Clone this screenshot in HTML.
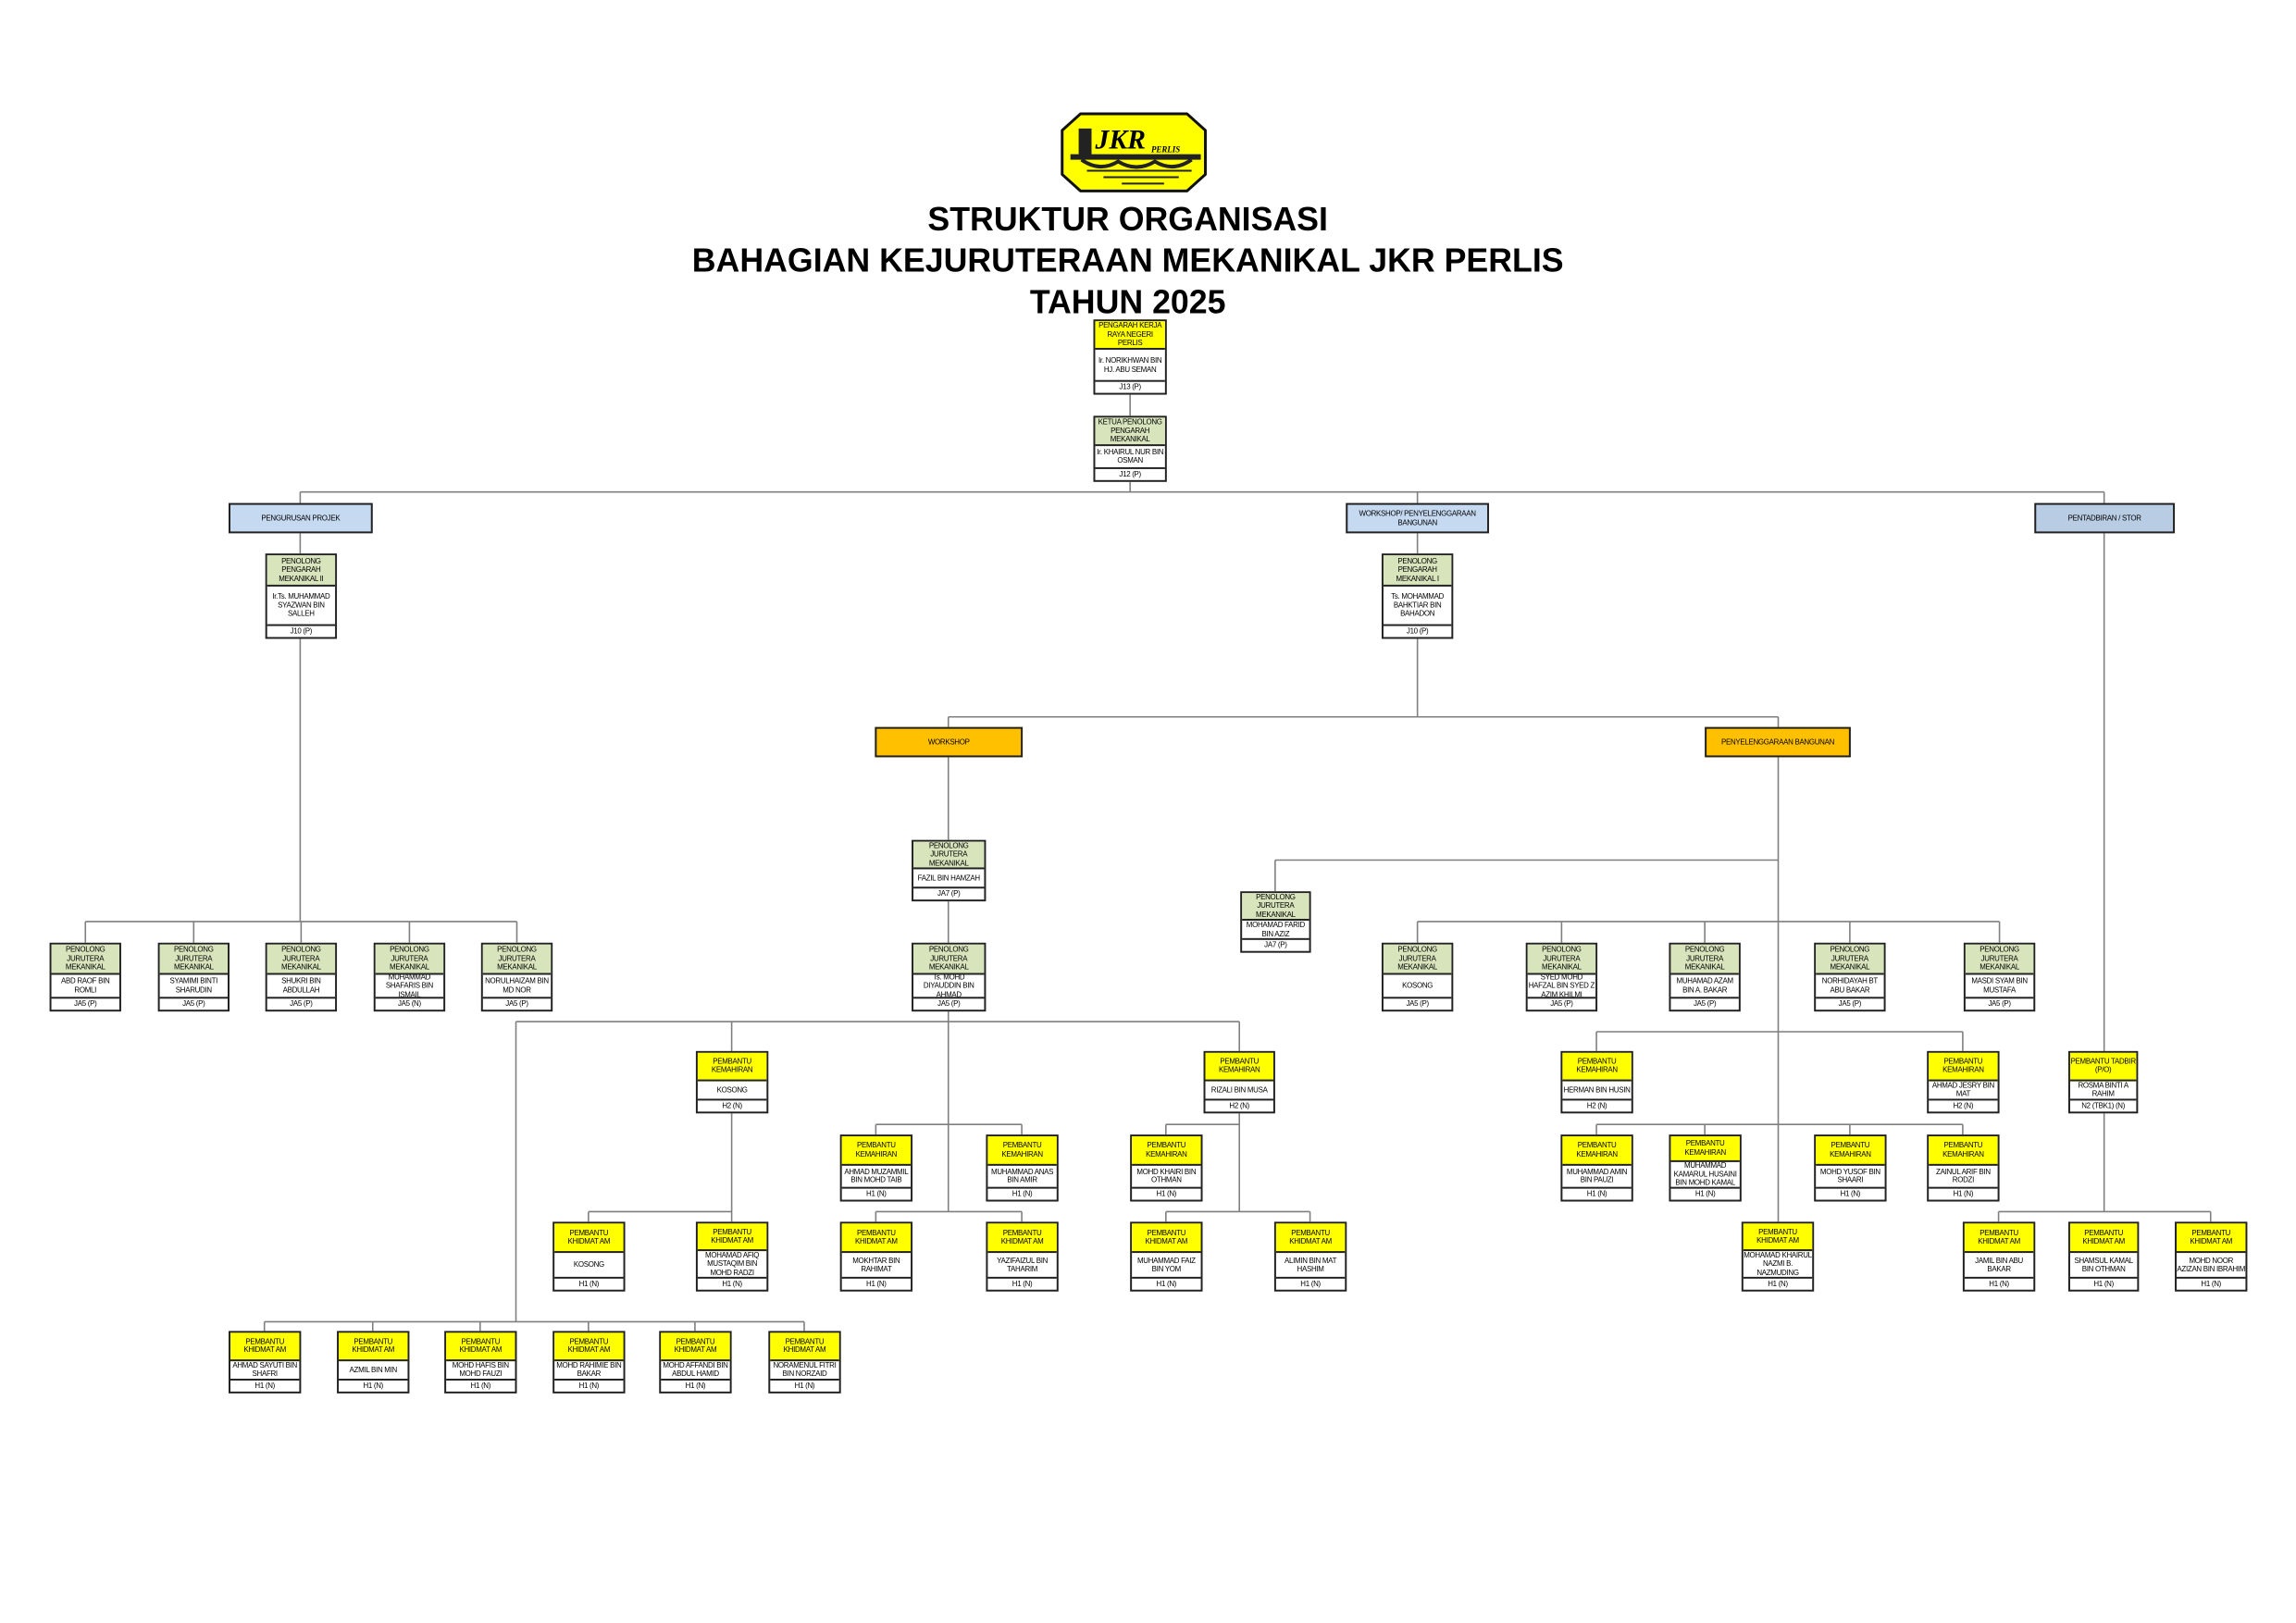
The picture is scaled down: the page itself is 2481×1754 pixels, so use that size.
<!DOCTYPE html>
<html><head><meta charset="utf-8">
<style>
html,body{margin:0;padding:0;background:#fff;}
body{width:2481px;height:1754px;position:relative;overflow:hidden;font-family:"Liberation Sans",sans-serif;}
#w{position:absolute;left:0;top:0;width:2481px;height:1754px;transform:scale(0.992);transform-origin:0 0;}
.h{position:absolute;left:0;width:2481px;text-align:center;font-weight:bold;font-size:36px;color:#000;line-height:40px;}
.b{position:absolute;border:2px solid #222;box-sizing:border-box;display:flex;flex-direction:column;background:#fff;font-size:8px;line-height:9.5px;text-align:center;color:#000;letter-spacing:-0.3px;}
.b>div{display:flex;align-items:center;justify-content:center;box-sizing:border-box;overflow:hidden;}
.b .t{height:38%;border-bottom:2px solid #222;}
.b .n{flex:1;border-bottom:2px solid #222;}
.b .g{height:12px;}
.y .t{background:#ffff00;}
.gr .t{background:#d8e4bc;}
.s{position:absolute;border:2px solid #222;box-sizing:border-box;display:flex;align-items:center;justify-content:center;text-align:center;font-size:8px;line-height:10px;letter-spacing:-0.3px;}
.bl{background:#c5d9f1;}
.bl2{background:#b8cce4;}
.or{background:#ffc000;}
</style></head><body><div id="w">
<svg width="2481" height="1754" style="position:absolute;left:0;top:0" xmlns="http://www.w3.org/2000/svg">
<g fill="none" stroke="#7f7f7f" stroke-width="1.6">
<path d="M1231 430V453M1231 525V536M327 536H2292M327 536V548M327 581V1004M1544 536V548M1544 581V781M2292 536V1320"/>
<path d="M93 1004H563M93 1004V1027M211 1004V1027M328 1004V1027M446 1004V1027M563 1004V1027"/>
<path d="M1033 781H1937M1033 781V792M1937 781V1331M1033 825V1320"/>
<path d="M562 1113H1350M562 1113V1440M797 1113V1331M1350 1113V1320"/>
<path d="M641 1320H797M641 1320V1331"/>
<path d="M954 1225H1113M954 1225V1236M1113 1225V1236M954 1320H1113M954 1320V1331M1113 1320V1331"/>
<path d="M1270 1225H1350M1270 1225V1236M1270 1320H1427M1270 1320V1331M1427 1320V1331"/>
<path d="M288 1440H876M288 1440V1450M406 1440V1450M523 1440V1450M641 1440V1450M757 1440V1450M876 1440V1450"/>
<path d="M1389 937H1937M1389 937V971"/>
<path d="M1544 1004H2178M1544 1004V1027M1701 1004V1027M1857 1004V1027M2015 1004V1027M2178 1004V1027"/>
<path d="M1739 1124H2138M1739 1124V1145M2138 1124V1145"/>
<path d="M1739 1225H2138M1739 1225V1236M1857 1225V1236M2015 1225V1236M2138 1225V1236"/>
<path d="M2177 1320H2408M2177 1320V1331M2408 1320V1331"/>
</g>
<g transform="translate(12,0)">
<path d="M1165 124 L1281 124 L1301 142 L1301 190 L1281 208 L1165 208 L1145 190 L1145 142 Z" fill="#ffff00" stroke="#111" stroke-width="3" stroke-linejoin="round"/>
<rect x="1163" y="140" width="14" height="30" fill="#222"/>
<rect x="1154" y="168" width="142" height="6" fill="#222"/>
<path d="M1166 174 Q1186 188 1206 176 Q1226 188 1246 176 Q1266 188 1286 174" fill="none" stroke="#222" stroke-width="4"/>
<path d="M1172 186 H1286 M1190 193 H1272 M1210 200 H1256" stroke="#222" stroke-width="2"/>
<text x="1181" y="162" font-family="Liberation Serif,serif" font-weight="bold" font-style="italic" font-size="30">JKR</text>
<text x="1242" y="166" font-family="Liberation Serif,serif" font-weight="bold" font-style="italic" font-size="9">PERLIS</text>
</g>
</svg>
<div class="h" style="top:219px;left:-12px">STRUKTUR ORGANISASI</div>
<div class="h" style="top:264px;left:-12px">BAHAGIAN KEJURUTERAAN MEKANIKAL JKR PERLIS</div>
<div class="h" style="top:309px;left:-12px">TAHUN 2025</div>

<div class="b y" style="left:1191px;top:348px;width:80px;height:82px"><div class="t" style="height:40%">PENGARAH KERJA RAYA NEGERI PERLIS</div><div class="n">Ir. NORIKHWAN BIN HJ. ABU SEMAN</div><div class="g">J13 (P)</div></div>
<div class="b gr" style="left:1191px;top:453px;width:80px;height:72px"><div class="t" style="height:45%">KETUA PENOLONG PENGARAH MEKANIKAL</div><div class="n">Ir. KHAIRUL NUR BIN OSMAN</div><div class="g">J12 (P)</div></div>

<div class="s bl" style="left:249px;top:548px;width:157px;height:33px">PENGURUSAN PROJEK</div>
<div class="s bl" style="left:1466px;top:548px;width:156px;height:33px">WORKSHOP/ PENYELENGGARAAN<br>BANGUNAN</div>
<div class="s bl2" style="left:2216px;top:548px;width:153px;height:33px">PENTADBIRAN / STOR</div>

<div class="b gr" style="left:289px;top:603px;width:78px;height:93px"><div class="t">PENOLONG PENGARAH MEKANIKAL II</div><div class="n">Ir.Ts. MUHAMMAD SYAZWAN BIN SALLEH</div><div class="g">J10 (P)</div></div>
<div class="b gr" style="left:1505px;top:603px;width:78px;height:93px"><div class="t">PENOLONG PENGARAH MEKANIKAL I</div><div class="n">Ts. MOHAMMAD BAHKTIAR BIN BAHADON</div><div class="g">J10 (P)</div></div>

<div class="s or" style="left:953px;top:792px;width:161px;height:33px">WORKSHOP</div>
<div class="s or" style="left:1857px;top:792px;width:159px;height:33px">PENYELENGGARAAN BANGUNAN</div>

<div class="b gr" style="left:993px;top:915px;width:81px;height:67px"><div class="t" style="height:48%">PENOLONG JURUTERA MEKANIKAL</div><div class="n">FAZIL BIN HAMZAH</div><div class="g">JA7 (P)</div></div>
<div class="b gr" style="left:1351px;top:971px;width:77px;height:67px"><div class="t" style="height:48%">PENOLONG JURUTERA MEKANIKAL</div><div class="n">MOHAMAD FARID BIN AZIZ</div><div class="g">JA7 (P)</div></div>

<div class="b gr" style="left:54px;top:1027px;width:78px;height:75px"><div class="t" style="height:46%">PENOLONG JURUTERA MEKANIKAL</div><div class="n">ABD RAOF BIN ROMLI</div><div class="g">JA5 (P)</div></div>
<div class="b gr" style="left:172px;top:1027px;width:78px;height:75px"><div class="t" style="height:46%">PENOLONG JURUTERA MEKANIKAL</div><div class="n">SYAMIMI BINTI SHARUDIN</div><div class="g">JA5 (P)</div></div>
<div class="b gr" style="left:289px;top:1027px;width:78px;height:75px"><div class="t" style="height:46%">PENOLONG JURUTERA MEKANIKAL</div><div class="n">SHUKRI BIN ABDULLAH</div><div class="g">JA5 (P)</div></div>
<div class="b gr" style="left:407px;top:1027px;width:78px;height:75px"><div class="t" style="height:46%">PENOLONG JURUTERA MEKANIKAL</div><div class="n">MUHAMMAD SHAFARIS BIN ISMAIL</div><div class="g">JA5 (N)</div></div>
<div class="b gr" style="left:524px;top:1027px;width:78px;height:75px"><div class="t" style="height:46%">PENOLONG JURUTERA MEKANIKAL</div><div class="n">NORULHAIZAM BIN MD NOR</div><div class="g">JA5 (P)</div></div>
<div class="b gr" style="left:993px;top:1027px;width:81px;height:75px"><div class="t" style="height:46%">PENOLONG JURUTERA MEKANIKAL</div><div class="n">Ts. MOHD DIYAUDDIN BIN AHMAD</div><div class="g">JA5 (P)</div></div>

<div class="b gr" style="left:1505px;top:1027px;width:78px;height:75px"><div class="t" style="height:46%">PENOLONG JURUTERA MEKANIKAL</div><div class="n">KOSONG</div><div class="g">JA5 (P)</div></div>
<div class="b gr" style="left:1662px;top:1027px;width:78px;height:75px"><div class="t" style="height:46%">PENOLONG JURUTERA MEKANIKAL</div><div class="n">SYED MOHD HAFZAL BIN SYED Z AZIM KHILMI</div><div class="g">JA5 (P)</div></div>
<div class="b gr" style="left:1818px;top:1027px;width:78px;height:75px"><div class="t" style="height:46%">PENOLONG JURUTERA MEKANIKAL</div><div class="n">MUHAMAD AZAM BIN A. BAKAR</div><div class="g">JA5 (P)</div></div>
<div class="b gr" style="left:1976px;top:1027px;width:78px;height:75px"><div class="t" style="height:46%">PENOLONG JURUTERA MEKANIKAL</div><div class="n">NORHIDAYAH BT ABU BAKAR</div><div class="g">JA5 (P)</div></div>
<div class="b gr" style="left:2139px;top:1027px;width:78px;height:75px"><div class="t" style="height:46%">PENOLONG JURUTERA MEKANIKAL</div><div class="n">MASDI SYAM BIN MUSTAFA</div><div class="g">JA5 (P)</div></div>

<div class="b y" style="left:758px;top:1145px;width:79px;height:68px"><div class="t" style="height:48%">PEMBANTU KEMAHIRAN</div><div class="n">KOSONG</div><div class="g">H2 (N)</div></div>
<div class="b y" style="left:1311px;top:1145px;width:78px;height:68px"><div class="t" style="height:48%">PEMBANTU KEMAHIRAN</div><div class="n">RIZALI BIN MUSA</div><div class="g">H2 (N)</div></div>
<div class="b y" style="left:1700px;top:1145px;width:79px;height:68px"><div class="t" style="height:48%">PEMBANTU KEMAHIRAN</div><div class="n">HERMAN BIN HUSIN</div><div class="g">H2 (N)</div></div>
<div class="b y" style="left:2099px;top:1145px;width:79px;height:68px"><div class="t" style="height:48%">PEMBANTU KEMAHIRAN</div><div class="n">AHMAD JESRY BIN MAT</div><div class="g">H2 (N)</div></div>
<div class="b y" style="left:2253px;top:1145px;width:76px;height:68px"><div class="t" style="height:48%">PEMBANTU TADBIR (P/O)</div><div class="n">ROSMA BINTI A RAHIM</div><div class="g">N2 (TBK1) (N)</div></div>

<div class="b y" style="left:915px;top:1236px;width:79px;height:73px"><div class="t" style="height:46%">PEMBANTU KEMAHIRAN</div><div class="n">AHMAD MUZAMMIL BIN MOHD TAIB</div><div class="g">H1 (N)</div></div>
<div class="b y" style="left:1074px;top:1236px;width:79px;height:73px"><div class="t" style="height:46%">PEMBANTU KEMAHIRAN</div><div class="n">MUHAMMAD ANAS BIN AMIR</div><div class="g">H1 (N)</div></div>
<div class="b y" style="left:1231px;top:1236px;width:79px;height:73px"><div class="t" style="height:46%">PEMBANTU KEMAHIRAN</div><div class="n">MOHD KHAIRI BIN OTHMAN</div><div class="g">H1 (N)</div></div>
<div class="b y" style="left:1700px;top:1236px;width:79px;height:73px"><div class="t" style="height:46%">PEMBANTU KEMAHIRAN</div><div class="n">MUHAMMAD AMIN BIN PAUZI</div><div class="g">H1 (N)</div></div>
<div class="b y" style="left:1818px;top:1236px;width:79px;height:73px"><div class="t" style="height:40%">PEMBANTU KEMAHIRAN</div><div class="n">MUHAMMAD KAMARUL HUSAINI BIN MOHD KAMAL</div><div class="g">H1 (N)</div></div>
<div class="b y" style="left:1976px;top:1236px;width:79px;height:73px"><div class="t" style="height:46%">PEMBANTU KEMAHIRAN</div><div class="n">MOHD YUSOF BIN SHAARI</div><div class="g">H1 (N)</div></div>
<div class="b y" style="left:2099px;top:1236px;width:79px;height:73px"><div class="t" style="height:46%">PEMBANTU KEMAHIRAN</div><div class="n">ZAINUL ARIF BIN RODZI</div><div class="g">H1 (N)</div></div>

<div class="b y" style="left:602px;top:1331px;width:79px;height:76px"><div class="t" style="height:45%">PEMBANTU KHIDMAT AM</div><div class="n">KOSONG</div><div class="g">H1 (N)</div></div>
<div class="b y" style="left:758px;top:1331px;width:79px;height:76px"><div class="t" style="height:42%">PEMBANTU KHIDMAT AM</div><div class="n">MOHAMAD AFIQ MUSTAQIM BIN MOHD RADZI</div><div class="g">H1 (N)</div></div>
<div class="b y" style="left:915px;top:1331px;width:79px;height:76px"><div class="t" style="height:45%">PEMBANTU KHIDMAT AM</div><div class="n">MOKHTAR BIN RAHIMAT</div><div class="g">H1 (N)</div></div>
<div class="b y" style="left:1074px;top:1331px;width:79px;height:76px"><div class="t" style="height:45%">PEMBANTU KHIDMAT AM</div><div class="n">YAZIFAIZUL BIN TAHARIM</div><div class="g">H1 (N)</div></div>
<div class="b y" style="left:1231px;top:1331px;width:79px;height:76px"><div class="t" style="height:45%">PEMBANTU KHIDMAT AM</div><div class="n">MUHAMMAD FAIZ BIN YOM</div><div class="g">H1 (N)</div></div>
<div class="b y" style="left:1388px;top:1331px;width:79px;height:76px"><div class="t" style="height:45%">PEMBANTU KHIDMAT AM</div><div class="n">ALIMIN BIN MAT HASHIM</div><div class="g">H1 (N)</div></div>
<div class="b y" style="left:1897px;top:1331px;width:79px;height:76px"><div class="t" style="height:42%">PEMBANTU KHIDMAT AM</div><div class="n">MOHAMAD KHAIRUL NAZMI B. NAZMUDING</div><div class="g">H1 (N)</div></div>
<div class="b y" style="left:2138px;top:1331px;width:79px;height:76px"><div class="t" style="height:45%">PEMBANTU KHIDMAT AM</div><div class="n">JAMIL BIN ABU BAKAR</div><div class="g">H1 (N)</div></div>
<div class="b y" style="left:2253px;top:1331px;width:77px;height:76px"><div class="t" style="height:45%">PEMBANTU KHIDMAT AM</div><div class="n">SHAMSUL KAMAL BIN OTHMAN</div><div class="g">H1 (N)</div></div>
<div class="b y" style="left:2369px;top:1331px;width:79px;height:76px"><div class="t" style="height:45%">PEMBANTU KHIDMAT AM</div><div class="n">MOHD NOOR AZIZAN BIN IBRAHIM</div><div class="g">H1 (N)</div></div>

<div class="b y" style="left:249px;top:1450px;width:79px;height:68px"><div class="t" style="height:48%">PEMBANTU KHIDMAT AM</div><div class="n">AHMAD SAYUTI BIN SHAFRI</div><div class="g">H1 (N)</div></div>
<div class="b y" style="left:367px;top:1450px;width:79px;height:68px"><div class="t" style="height:48%">PEMBANTU KHIDMAT AM</div><div class="n">AZMIL BIN MIN</div><div class="g">H1 (N)</div></div>
<div class="b y" style="left:484px;top:1450px;width:79px;height:68px"><div class="t" style="height:48%">PEMBANTU KHIDMAT AM</div><div class="n">MOHD HAFIS BIN MOHD FAUZI</div><div class="g">H1 (N)</div></div>
<div class="b y" style="left:602px;top:1450px;width:79px;height:68px"><div class="t" style="height:48%">PEMBANTU KHIDMAT AM</div><div class="n">MOHD RAHIMIE BIN BAKAR</div><div class="g">H1 (N)</div></div>
<div class="b y" style="left:718px;top:1450px;width:79px;height:68px"><div class="t" style="height:48%">PEMBANTU KHIDMAT AM</div><div class="n">MOHD AFFANDI BIN ABDUL HAMID</div><div class="g">H1 (N)</div></div>
<div class="b y" style="left:837px;top:1450px;width:79px;height:68px"><div class="t" style="height:48%">PEMBANTU KHIDMAT AM</div><div class="n">NORAMENUL FITRI BIN NORZAID</div><div class="g">H1 (N)</div></div>
</div></body></html>
